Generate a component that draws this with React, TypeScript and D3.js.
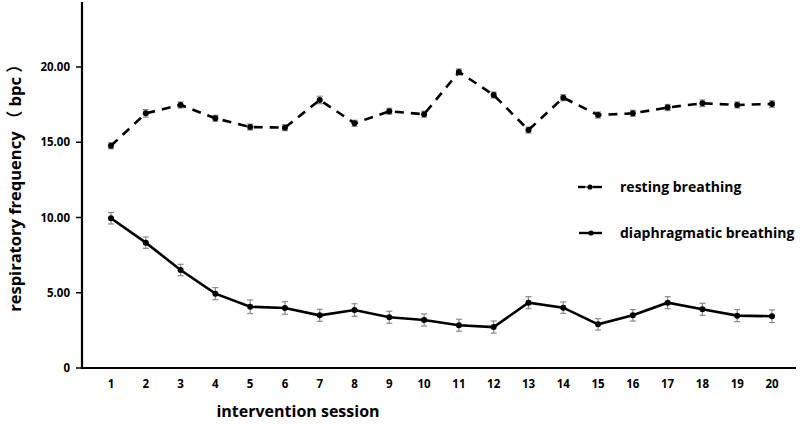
import React from "react";
import * as d3 from "d3";

const sessions = [1,2,3,4,5,6,7,8,9,10,11,12,13,14,15,16,17,18,19,20];
const resting = [14.77,16.92,17.48,16.59,16.01,15.97,17.81,16.26,17.06,16.86,19.67,18.14,15.81,17.96,16.81,16.92,17.31,17.59,17.48,17.54];
const restingErr = [0.2,0.25,0.2,0.2,0.2,0.2,0.25,0.2,0.2,0.2,0.2,0.2,0.2,0.2,0.2,0.2,0.2,0.22,0.2,0.22];
const diaphragmatic = [9.95,8.33,6.51,4.94,4.07,3.99,3.50,3.85,3.37,3.19,2.84,2.72,4.34,4.01,2.90,3.50,4.34,3.90,3.48,3.44];
const diaphragmaticErr = [0.38,0.38,0.38,0.4,0.45,0.42,0.4,0.42,0.4,0.4,0.4,0.4,0.4,0.38,0.38,0.38,0.4,0.4,0.4,0.42];
const yTicks = [0,5,10,15,20];
const seriesNames = ["resting breathing","diaphragmatic breathing"];

const FONT = "'Open Sans', 'Noto Sans', 'Noto Sans CJK SC', sans-serif";

export default function App() {
  const x = d3.scaleLinear().domain([1, 20]).range([111, 772]);
  const y = d3.scaleLinear().domain([0, 20]).range([368, 67]);
  const axisX0 = 82;
  const axisY0 = 368;
  const line = d3.line<number>().x((_, i) => x(sessions[i])).y((d) => y(d));

  const renderSeries = (vals: number[], errs: number[], dashed: boolean) => (
    <g>
      {vals.map((v, i) => {
        const cx = x(sessions[i]);
        const y1 = y(v + errs[i]);
        const y2 = y(v - errs[i]);
        return (
          <g key={i} stroke="#8a8a8a" strokeWidth={1.2}>
            <line x1={cx} x2={cx} y1={y1} y2={y2} />
            <line x1={cx - 3} x2={cx + 3} y1={y1} y2={y1} />
            <line x1={cx - 3} x2={cx + 3} y1={y2} y2={y2} />
          </g>
        );
      })}
      <path d={line(vals) || ""} fill="none" stroke="#000" strokeWidth={2.6}
        strokeDasharray={dashed ? "9,7" : undefined} />
      {vals.map((v, i) => (
        <circle key={i} cx={x(sessions[i])} cy={y(v)} r={3} fill="#000" />
      ))}
    </g>
  );

  return (
    <svg width={800} height={424} style={{ position: "absolute", left: 0, top: 0, background: "#fff" }}
      fontFamily={FONT}>
      <rect width={800} height={424} fill="#fff" />
      {/* axes */}
      <line x1={axisX0} x2={axisX0} y1={2} y2={axisY0 + 1} stroke="#000" strokeWidth={2.2} />
      <line x1={axisX0 - 1} x2={796} y1={axisY0} y2={axisY0} stroke="#000" strokeWidth={2.2} />
      {yTicks.map((t) => (
        <g key={t}>
          <line x1={axisX0 - 6} x2={axisX0} y1={y(t)} y2={y(t)} stroke="#000" strokeWidth={1.5} />
          <text x={70} y={y(t)} dy="0.35em" textAnchor="end" fontSize={11.5} fontWeight="bold">
            {t === 0 ? "0" : d3.format(".2f")(t)}
          </text>
        </g>
      ))}
      {sessions.map((s) => (
        <text key={s} x={x(s)} y={388} textAnchor="middle" fontSize={11.5} fontWeight="bold">{s}</text>
      ))}
      <text x={298} y={417} textAnchor="middle" fontSize={16} fontWeight="bold">intervention session</text>
      <text transform={`translate(21,${184}) rotate(-90)`} textAnchor="middle" fontSize={16.5} fontWeight="bold"
        style={{ whiteSpace: "pre" }}>
        {"respiratory frequency （ bpc ）"}
      </text>
      {renderSeries(resting, restingErr, true)}
      {renderSeries(diaphragmatic, diaphragmaticErr, false)}
      {/* legend */}
      <g>
        <line x1={578} x2={585} y1={187} y2={187} stroke="#000" strokeWidth={2.4} />
        <line x1={593} x2={602} y1={187} y2={187} stroke="#000" strokeWidth={2.4} />
        <line x1={585} x2={593} y1={187} y2={187} stroke="#000" strokeWidth={1} />
        <circle cx={590} cy={187} r={2.6} fill="#000" />
        <text x={620} y={187} dy="0.35em" fontSize={14} fontWeight="bold">{seriesNames[0]}</text>
        <line x1={579} x2={602} y1={233} y2={233} stroke="#000" strokeWidth={2.4} />
        <circle cx={591} cy={233} r={2.6} fill="#000" />
        <text x={620} y={233} dy="0.35em" fontSize={14} fontWeight="bold">{seriesNames[1]}</text>
      </g>
    </svg>
  );
}
